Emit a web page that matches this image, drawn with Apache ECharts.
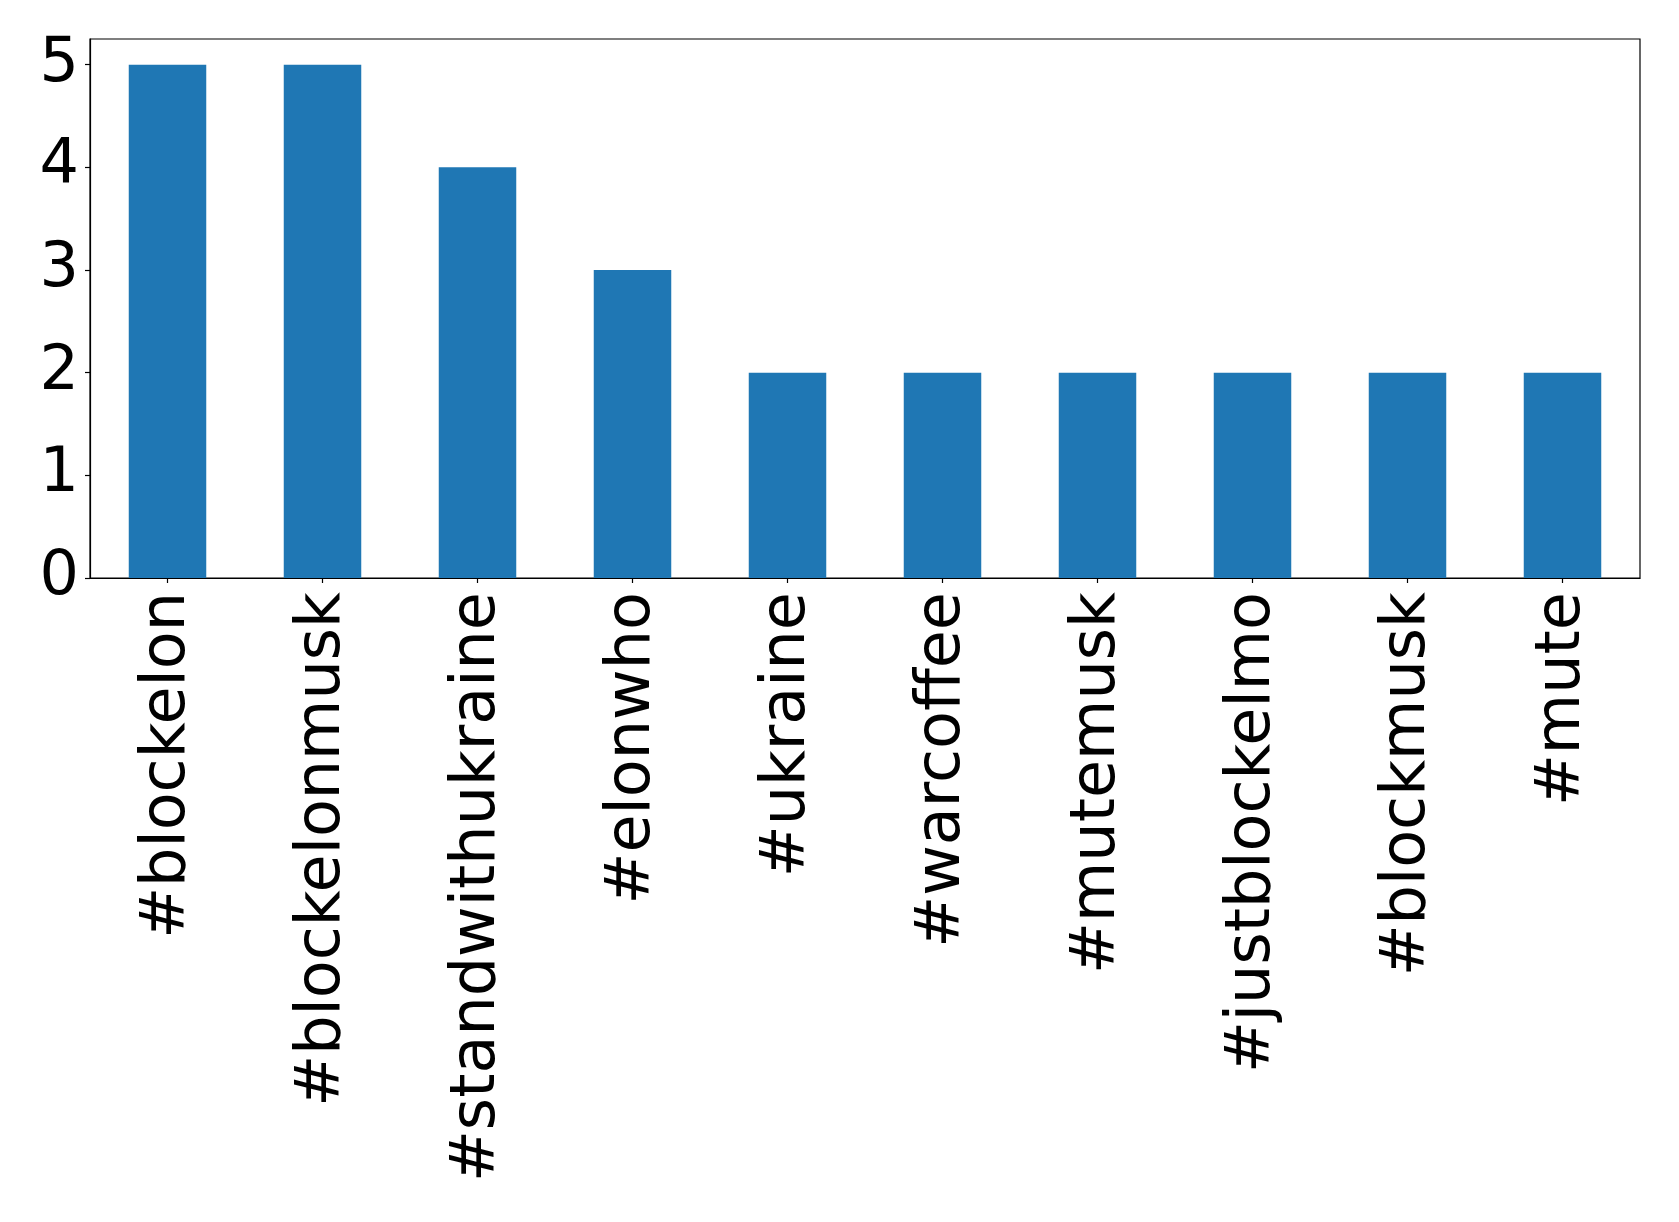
<!DOCTYPE html>
<html>
<head>
<meta charset="utf-8">
<script src="https://cdn.jsdelivr.net/npm/echarts@6/dist/echarts.min.js"></script>
<style>
html,body{margin:0;padding:0;background:#fff;}
#chart{width:1679px;height:1222px;}
</style>
</head>
<body>
<div id="chart"></div>
<script>
const categories = ['#blockelon','#blockelonmusk','#standwithukraine','#elonwho','#ukraine','#warcoffee','#mutemusk','#justblockelmo','#blockmusk','#mute'];
const counts = [5,5,4,3,2,2,2,2,2,2];
const yTicks = [0,1,2,3,4,5];

const chart = echarts.init(document.getElementById('chart'), null, {renderer:'canvas'});
chart.setOption({
  animation:false,
  backgroundColor:'#ffffff',
  grid:{left:90,right:39,top:39,bottom:644,show:true,borderColor:'#000',borderWidth:1.2,backgroundColor:'transparent'},
  xAxis:{
    type:'category',
    data:categories,
    boundaryGap:true,
    axisLine:{show:true,lineStyle:{color:'#000',width:1.2}},
    axisTick:{show:true,alignWithLabel:true,length:5,lineStyle:{color:'#000',width:1.2}},
    axisLabel:{rotate:90,margin:14,color:'#000',fontFamily:'DejaVu Sans',fontSize:62,interval:0,padding:[6,0,0,0]}
  },
  yAxis:{
    type:'value',
    min:0,max:5.25,interval:1,
    axisLine:{show:true,lineStyle:{color:'#000',width:1.2}},
    axisTick:{show:true,length:5,lineStyle:{color:'#000',width:1.2},customValues:yTicks},
    axisLabel:{margin:11,color:'#000',fontFamily:'DejaVu Sans',fontSize:62,customValues:yTicks,
      formatter:function(v){return Number.isInteger(v)?String(v):'';}},
    splitLine:{show:false}
  },
  series:[{
    type:'bar',
    data:counts,
    barWidth:'50%',
    itemStyle:{color:'#1f77b4'}
  }]
});
</script>
</body>
</html>
